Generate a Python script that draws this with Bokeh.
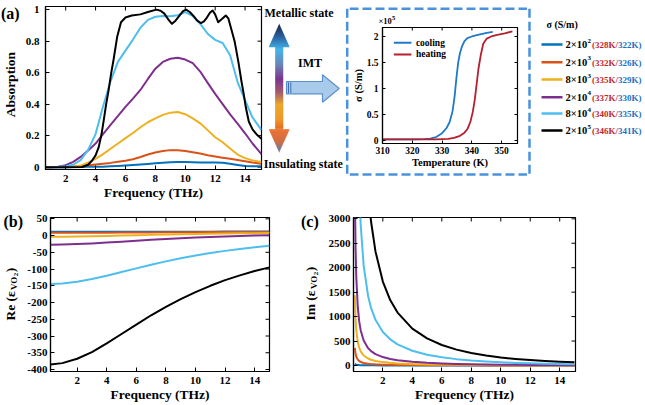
import math
from bokeh.plotting import figure
from bokeh.layouts import row, column
from bokeh.models import Range1d, FixedTicker, CustomJSTickFormatter
from bokeh.core.properties import value
from bokeh.embed import file_html
from bokeh.resources import INLINE

FONT = "Liberation Serif"
COLORS = ["#0072BD", "#D95319", "#EDB120", "#7E2F8E", "#4DBEEE", "#000000"]
DASH = "#4a92dc"
COOL = "#1f78c8"
HEAT = "#b51f2e"
RED_TXT = "#c0282d"
BLUE_TXT = "#1f6fc0"

# ---------------- data ----------------
sigma_mant = ["2×10", "2×10", "8×10", "2×10", "8×10", "2×10"]
sigma_exp = ["2", "3", "3", "4", "4", "5"]
t_heat = ["(328K/", "(332K/", "(335K/", "(337K/", "(340K/", "(346K/"]
t_cool = ["322K)", "326K)", "329K)", "330K)", "335K)", "341K)"]

freq_a = [0.65, 1, 1.5, 2, 2.5, 3, 3.5, 4, 4.5, 5, 5.5, 6, 6.5, 7, 7.5, 8, 8.5, 9, 9.5, 10,
          10.5, 11, 11.5, 12, 12.5, 13, 13.5, 14, 14.5, 15.1]
abs_blue = [0, 0, 0, 0, 0.001, 0.001, 0.002, 0.002, 0.003, 0.005, 0.008, 0.01, 0.013, 0.017, 0.02,
            0.024, 0.028, 0.031, 0.032, 0.032, 0.031, 0.03, 0.03, 0.03, 0.028, 0.022, 0.014, 0.007, 0.005, 0.005]
abs_orange = [0, 0, 0.001, 0.002, 0.004, 0.007, 0.012, 0.017, 0.022, 0.027, 0.034, 0.041, 0.05, 0.064, 0.08,
              0.093, 0.103, 0.108, 0.107, 0.103, 0.095, 0.086, 0.076, 0.068, 0.06, 0.053, 0.046, 0.038, 0.03, 0.022]
abs_yellow = [0, 0, 0.001, 0.002, 0.004, 0.01, 0.028, 0.052, 0.083, 0.117, 0.15, 0.184, 0.217, 0.253, 0.285,
              0.31, 0.332, 0.346, 0.35, 0.336, 0.31, 0.278, 0.235, 0.19, 0.158, 0.118, 0.08, 0.057, 0.043, 0.032]
abs_purple = [0, 0, 0.002, 0.012, 0.033, 0.065, 0.105, 0.15, 0.21, 0.268, 0.325, 0.383, 0.435, 0.49, 0.56,
              0.625, 0.668, 0.688, 0.694, 0.683, 0.66, 0.607, 0.535, 0.465, 0.4, 0.335, 0.276, 0.215, 0.15, 0.082]
abs_lightblue = [0, 0, 0.002, 0.006, 0.015, 0.045, 0.11, 0.21, 0.385, 0.545, 0.67, 0.74, 0.81, 0.885, 0.935,
                 0.955, 0.96, 0.958, 0.965, 0.984, 0.96, 0.91, 0.847, 0.808, 0.788, 0.71, 0.54, 0.425, 0.315, 0.235]
freq_black = [0.65, 2.0, 3.1, 3.5, 3.77, 4.0, 4.21, 4.4, 4.55, 4.7, 4.87, 5.05, 5.2, 5.45, 5.7, 6.0, 6.42,
              7.0, 7.5, 8.07, 8.35, 8.6, 8.85, 9.11, 9.35, 9.6, 9.85, 10.06, 10.3, 10.55, 10.8, 11.05,
              11.25, 11.45, 11.65, 11.83, 12.0, 12.2, 12.45, 12.71, 12.88, 13.04, 13.3, 13.55, 13.75,
              13.9, 14.05, 14.25, 14.5, 14.8, 15.1]
abs_black = [0, 0, 0.001, 0.015, 0.042, 0.075, 0.127, 0.21, 0.3, 0.395, 0.487, 0.6, 0.68, 0.83, 0.92, 0.95,
             0.963, 0.97, 0.985, 1.0, 0.993, 0.975, 0.94, 0.91, 0.93, 0.96, 0.99, 1.0, 0.985, 0.96, 0.93,
             0.915, 0.925, 0.95, 0.98, 0.995, 0.97, 0.92, 0.94, 0.963, 0.945, 0.89, 0.8, 0.67, 0.55, 0.47,
             0.38, 0.29, 0.24, 0.205, 0.18]

temp_cool = [310, 315, 320, 324, 326, 328, 330, 331.5, 332.5, 333.5, 334.2, 334.8, 335.4, 336, 336.6,
             337.5, 338.5, 340, 342, 345, 347]
sigma_cool = [0.02, 0.02, 0.02, 0.025, 0.035, 0.065, 0.14, 0.24, 0.35, 0.56, 0.85, 1.2, 1.5, 1.68, 1.8,
              1.91, 1.97, 2.0, 2.03, 2.07, 2.09]
temp_heat = [310, 320, 328, 332, 334, 336, 337.5, 338.5, 339.5, 340.3, 341, 341.6, 342.2, 343, 343.8,
             345, 346.5, 348.5, 351, 353.6]
sigma_heat = [0.02, 0.02, 0.022, 0.03, 0.05, 0.09, 0.15, 0.22, 0.36, 0.55, 0.8, 1.09, 1.38, 1.65, 1.86,
              1.96, 2.0, 2.03, 2.06, 2.1]

freq_b = [0.2, 1, 2, 3, 4, 5, 6, 7, 8, 9, 10, 11, 12, 13, 14, 15]
re_blue = [11.6, 11.6, 11.6, 11.6, 11.7, 11.7, 11.7, 11.8, 11.8, 11.8, 11.8, 11.8, 11.9, 11.9, 11.9, 11.9]
re_orange = [8.1, 8.1, 8.2, 8.5, 8.7, 9.0, 9.3, 9.5, 9.8, 10.0, 10.2, 10.4, 10.6, 10.7, 10.8, 10.9]
re_yellow = [-3.7, -3.5, -3.0, -2.2, -1.2, -0.1, 1.0, 2.1, 3.1, 4.0, 4.8, 5.6, 6.2, 6.8, 7.3, 7.7]
re_purple = [-27.3, -26.8, -25.5, -23.5, -21.0, -18.3, -15.5, -12.8, -10.3, -8.0, -5.9, -4.1, -2.4, -1.0, 0.2, 1.3]
re_lightblue = [-145.0, -143.2, -137.9, -129.8, -119.9, -109.0, -97.9, -87.1, -77.0, -67.9, -59.6, -52.2,
                -45.7, -40.0, -35.0, -30.6]
re_black = [-385, -381, -368, -348, -322, -294, -266, -238, -213, -190, -169, -150, -133, -119, -106, -95]

freq_c = [0.1, 0.15, 0.2, 0.3, 0.4, 0.5, 0.7, 1, 1.2, 1.5, 2, 2.5, 3, 4, 5, 6, 7, 8, 9, 10, 11, 12, 13, 14, 15]
im_black = [35946, 23960, 17966, 11970, 8970, 7169, 5106, 3553, 2945, 2334, 1716, 1338, 1082, 755, 554,
            419, 324, 255, 203, 164, 134, 110, 92, 77, 65]
im_lightblue = [14378, 9584, 7186, 4788, 3588, 2867, 2042, 1421, 1178, 934, 686, 535, 433, 302, 221, 168,
                130, 102, 81, 66, 53, 44, 37, 31, 26]
im_purple = [3595, 2397, 1797, 1197, 897, 717, 511, 355, 295, 233, 172, 134, 108, 75, 55, 42, 32, 25, 20,
             16, 13, 11, 9, 7.7, 6.5]
im_yellow = [1438, 959, 719, 479, 359, 287, 204, 142, 118, 93, 69, 54, 43, 30, 22, 17, 13, 10, 8, 6.6,
             5.3, 4.4, 3.7, 3.1, 2.6]
im_orange = [359.5, 240, 180, 120, 90, 72, 51, 35.5, 29.4, 23.3, 17.2, 13.4, 10.8, 7.5, 5.5, 4.2, 3.2,
             2.5, 2.0, 1.6, 1.3, 1.1, 0.9, 0.8, 0.65]
im_blue = [36, 24, 18, 12, 9, 7.2, 5.1, 3.6, 2.9, 2.3, 1.7, 1.3, 1.1, 0.75, 0.55, 0.42, 0.32, 0.25, 0.2,
           0.16, 0.13, 0.11, 0.09, 0.08, 0.07]

ticks_freq = [2, 4, 6, 8, 10, 12, 14]
ticks_abs = [0, 0.2, 0.4, 0.6, 0.8, 1]
ticks_re = [-400, -350, -300, -250, -200, -150, -100, -50, 0, 50]
ticks_im = [0, 500, 1000, 1500, 2000, 2500, 3000]
ticks_temp = [310, 320, 330, 340, 350]
ticks_sig = [0, 0.5, 1, 1.5, 2]


# ---------------- helpers ----------------
def make_panel(w, h, xr, yr, mbl, mbr, mbt, mbb):
    p = figure(width=w, height=h, x_range=Range1d(*xr), y_range=Range1d(*yr),
               output_backend="svg", toolbar_location=None, frame_align=False,
               min_border_left=mbl, min_border_right=mbr, min_border_top=mbt, min_border_bottom=mbb)
    p.grid.visible = False
    p.outline_line_color = "black"
    p.outline_line_width = 1.2
    p.outline_line_alpha = 1
    p.background_fill_color = "white"
    p.border_fill_color = "white"
    return p


def canvas(w, h, x0=0, y0=0):
    # a blank drawing area whose data units are page pixels
    p = figure(width=w, height=h, x_range=Range1d(x0, x0 + w), y_range=Range1d(y0 + h, y0),
               x_axis_type=None, y_axis_type=None, output_backend="svg", frame_align=False,
               toolbar_location=None, min_border=0, outline_line_color=None)
    p.grid.visible = False
    p.background_fill_color = "white"
    p.border_fill_color = "white"
    return p


def style_axis(ax, ticks, size="11px", standoff=3, tick_len=4):
    ax.ticker = FixedTicker(ticks=ticks)
    ax.formatter = CustomJSTickFormatter(code="return String(tick);")
    ax.major_tick_in = tick_len
    ax.major_tick_out = 0
    ax.minor_tick_line_color = None
    ax.axis_line_width = 1.2
    ax.axis_line_color = "black"
    ax.major_tick_line_color = "black"
    ax.major_label_text_font = FONT
    ax.major_label_text_font_style = "bold"
    ax.major_label_text_font_size = size
    ax.major_label_text_color = "black"
    ax.major_label_standoff = standoff
    ax.axis_label_text_font = FONT
    ax.axis_label_text_font_style = "bold"
    ax.axis_label_text_color = "black"


def mirror_ticks(p, xt, yt, xr, yr, size=8):
    # inward ticks on the top and right edges (half of each dash is clipped by the frame)
    p.scatter(x=xt, y=[yr[1]] * len(xt), marker="dash", size=size, angle=math.pi / 2,
              line_color="black", line_width=1)
    p.scatter(x=[xr[1]] * len(yt), y=yt, marker="dash", size=size, angle=0,
              line_color="black", line_width=1)


def txt(p, x, y, text, size, color="black", align="left", angle=0.0):
    p.text(x=[x], y=[y], text=[text], text_font=value(FONT), text_font_style="bold",
           text_font_size=size, text_color=color, text_align=align, text_baseline="middle",
           angle=angle)


DASHSTYLE = dict(line_color=DASH, line_width=2.5, line_dash="9 4")

# ---------------- top row ----------------
TOP_H = 205
ca = canvas(22, TOP_H, 0, 0)
txt(ca, 0.5, 12.5, "(a)", "16px")
txt(ca, 10, 84, "Absorption", "13.5px", align="center", angle=math.pi / 2)

XR_A, YR_A = (0.65, 15.1), (-0.015, 1.02)
pa = make_panel(241, TOP_H, XR_A, YR_A, 21, 2, 6, 36)
ax = pa.below[0]
style_axis(ax, ticks_freq, standoff=5)
ax.axis_label = "Frequency (THz)"
ax.axis_label_text_font_size = "13.5px"
ax.axis_label_standoff = 0
ay = pa.left[0]
style_axis(ay, ticks_abs, standoff=6)
mirror_ticks(pa, ticks_freq, ticks_abs, XR_A, YR_A)
for ys, c in zip([abs_blue, abs_orange, abs_yellow, abs_purple, abs_lightblue], COLORS[:5]):
    pa.line(freq_a, ys, color=c, line_width=2, line_join="round")
pa.line(freq_black, abs_black, color=COLORS[5], line_width=2, line_join="round")

# decoration between (a) and the inset (page x 263..349)
dec = canvas(86, TOP_H, 263, 0)
txt(dec, 264, 12, "Metallic state", "12px")
txt(dec, 263.3, 163, "Insulating state", "12px")
txt(dec, 309.5, 62, "IMT", "12px", align="center")


def hex2rgb(h):
    return tuple(int(h[i:i + 2], 16) for i in (1, 3, 5))


def lerp_color(stops, t):
    for (t0, c0), (t1, c1) in zip(stops[:-1], stops[1:]):
        if t <= t1:
            f = (t - t0) / (t1 - t0) if t1 > t0 else 0.0
            a, b = hex2rgb(c0), hex2rgb(c1)
            return "#%02x%02x%02x" % tuple(int(round(a[k] + (b[k] - a[k]) * f)) for k in range(3))
    return stops[-1][1]


stops = [(0.0, "#1c2340"), (0.1, "#2a5f9e"), (0.2, "#45b5ea"), (0.32, "#6a84b4"), (0.43, "#7b3490"),
         (0.53, "#a05a70"), (0.63, "#eaa82a"), (0.74, "#f09a2a"), (0.84, "#e45e1c"), (0.92, "#c8582a"),
         (1.0, "#3b6fb0")]
cx, ytop, yb1, yb2, ybot, hw_head, hw_shaft = 278.7, 23.3, 46.7, 128.3, 151.7, 10.5, 4.0
N = 128
hstep = (ybot - ytop) / N
L, R, T, B, C = [], [], [], [], []
for i in range(N):
    y0 = ytop + i * hstep
    ym = y0 + hstep / 2
    if ym < yb1:
        hw = hw_head * (ym - ytop) / (yb1 - ytop)
    elif ym > yb2:
        hw = hw_head * (ybot - ym) / (ybot - yb2)
    else:
        hw = hw_shaft
    L.append(cx - hw)
    R.append(cx + hw)
    T.append(y0)
    B.append(y0 + hstep + 0.35)
    C.append(lerp_color(stops, (ym - ytop) / (ybot - ytop)))
dec.quad(left=L, right=R, top=T, bottom=B, fill_color=C, line_color=None)

dec.patch([286, 322, 322, 338.7, 322, 322, 286], [81, 81, 74.3, 88, 101.7, 93.3, 93.3],
          fill_color="#a9cbeb", line_color="#5b8fc9", line_width=1.2)
dec.segment(x0=[288, 290.3], y0=[81.8, 81.8], x1=[288, 290.3], y1=[92.5, 92.5], line_color="#3f6fb0",
            line_width=1)
dec.line([346.7, 346.7], [8.3, 174], **DASHSTYLE)

# inset (page x 349..527)
strip_top = canvas(178, 25, 349, 0)
strip_top.line([349, 527], [8.3, 8.3], **DASHSTYLE)
txt(strip_top, 378, 20.7, "×10", "8.5px")
txt(strip_top, 391.6, 17.2, "5", "6.5px")

XR_I, YR_I = (310, 355.3), (-0.058, 2.173)
pin = make_panel(178, 147, XR_I, YR_I, 29, 10, 2, 29)
ix = pin.below[0]
style_axis(ix, ticks_temp, size="9.5px", standoff=3, tick_len=3)
ix.axis_label = "Temperature (K)"
ix.axis_label_text_font_size = "10.5px"
ix.axis_label_standoff = 0
iy = pin.left[0]
style_axis(iy, ticks_sig, size="9.5px", standoff=4, tick_len=3)
iy.axis_label = "σ (S/m)"
iy.axis_label_text_font_size = "10.5px"
iy.axis_label_standoff = 0
mirror_ticks(pin, ticks_temp, ticks_sig, XR_I, YR_I, size=6)
pin.line(temp_cool, sigma_cool, color=COOL, line_width=1.8)
pin.line(temp_heat, sigma_heat, color=HEAT, line_width=1.8)
pin.line([313.8, 319.7], [1.879, 1.879], color=COOL, line_width=2)
pin.line([313.8, 319.7], [1.654, 1.654], color=HEAT, line_width=2)
txt(pin, 321.2, 1.879, "cooling", "9.5px")
txt(pin, 321.2, 1.654, "heating", "9.5px")

strip_bot = canvas(178, 33, 349, 172)
strip_bot.line([349, 527], [174, 174], **DASHSTYLE)

inset_col = column(strip_top, pin, strip_bot)

# legend (page x 527..644)
leg = canvas(117, TOP_H, 527, 0)
leg.line([529, 529], [8.3, 174], **DASHSTYLE)
txt(leg, 546, 24, "σ (S/m)", "10px")
entry_y = [44, 61.7, 79, 96.7, 113, 130]
for i in range(6):
    yy = entry_y[i]
    leg.line([541, 562], [yy, yy], color=COLORS[i], line_width=2.5)
    txt(leg, 565, yy, sigma_mant[i], "10.5px")
    txt(leg, 587, yy - 4, sigma_exp[i], "7px")
    txt(leg, 591.5, yy + 0.5, t_heat[i], "9px", color=RED_TXT)
    txt(leg, 617.5, yy + 0.5, t_cool[i], "9px", color=BLUE_TXT)

# ---------------- bottom row (page y 205..404) ----------------
BOT_Y, BOT_H = 205, 199
cb = canvas(24, BOT_H, 0, BOT_Y)
txt(cb, 3, 221, "(b)", "16px")
txt(cb, 10, 320, "Re (ε", "13.5px", angle=math.pi / 2)
txt(cb, 13.8, 289.5, "VO", "9px", angle=math.pi / 2)
txt(cb, 15.2, 275.7, "2", "7px", angle=math.pi / 2)
txt(cb, 10, 271.7, ")", "13.5px", angle=math.pi / 2)

XR_B, YR_B = (0.2, 15.0), (-406, 54)
pb = make_panel(276, BOT_H, XR_B, YR_B, 25, 31, 12, 33)
bx = pb.below[0]
style_axis(bx, ticks_freq, standoff=5)
bx.axis_label = "Frequency (THz)"
bx.axis_label_text_font_size = "13.5px"
bx.axis_label_standoff = 0
by = pb.left[0]
style_axis(by, ticks_re, standoff=3)
mirror_ticks(pb, ticks_freq, ticks_re, XR_B, YR_B)
for ys, c in zip([re_blue, re_orange, re_yellow, re_purple, re_lightblue, re_black], COLORS):
    pb.line(freq_b, ys, color=c, line_width=2, line_join="round")

cc = canvas(25, BOT_H, 300, BOT_Y)
txt(cc, 300.5, 221, "(c)", "16px")
txt(cc, 310, 320, "Im (ε", "13.5px", angle=math.pi / 2)
txt(cc, 313.8, 288.6, "VO", "9px", angle=math.pi / 2)
txt(cc, 315.2, 274.8, "2", "7px", angle=math.pi / 2)
txt(cc, 310, 270.8, ")", "13.5px", angle=math.pi / 2)

XR_C, YR_C = (0.01, 15.07), (-123, 3027)
pc = make_panel(319, BOT_H, XR_C, YR_C, 26, 69, 12, 33)
cxa = pc.below[0]
style_axis(cxa, ticks_freq, standoff=5)
cxa.axis_label = "Frequency (THz)"
cxa.axis_label_text_font_size = "13.5px"
cxa.axis_label_standoff = 0
cya = pc.left[0]
style_axis(cya, ticks_im, standoff=3)
mirror_ticks(pc, ticks_freq, ticks_im, XR_C, YR_C)
for ys, c in zip([im_blue, im_orange, im_yellow, im_purple, im_lightblue, im_black], COLORS):
    pc.line(freq_c, ys, color=c, line_width=2, line_join="round")

layout = column(row(ca, pa, dec, inset_col, leg), row(cb, pb, cc, pc))

open("out.html", "w").write(file_html(layout, INLINE))
